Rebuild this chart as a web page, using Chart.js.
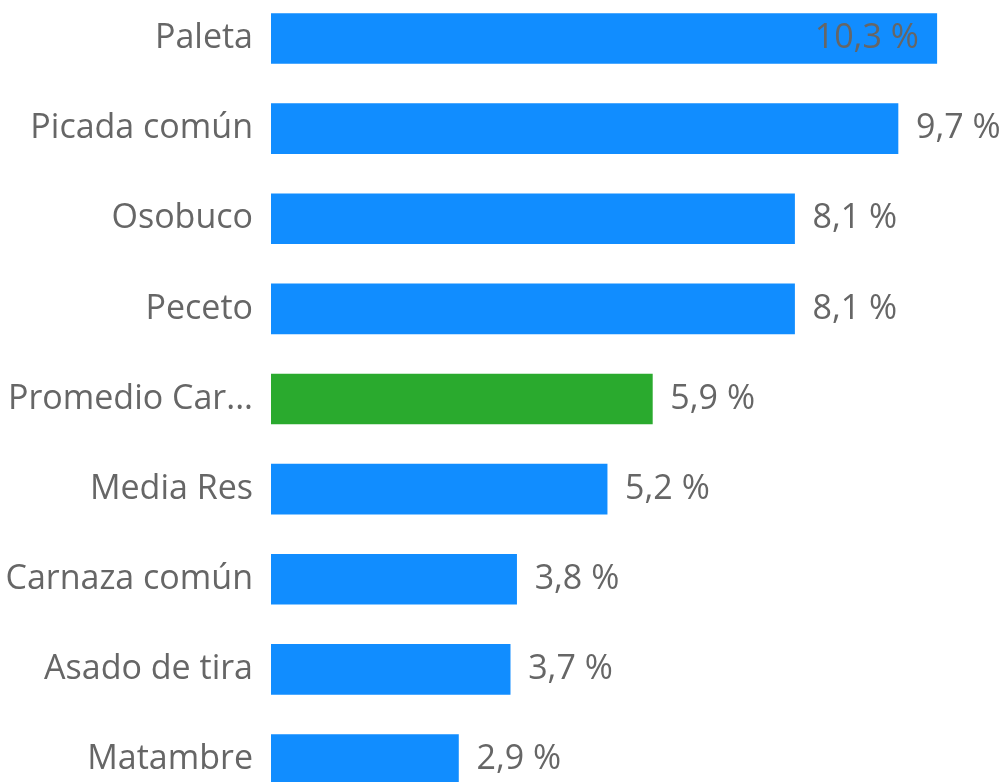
<!DOCTYPE html>
<html>
<head>
<meta charset="utf-8">
<script src="https://cdn.jsdelivr.net/npm/chart.js@4"></script>
<style>
  html, body { margin: 0; padding: 0; background: #fff; overflow: hidden; }
  #wrap { position: absolute; left: 0; top: -37px; width: 1004px; height: 872px; }
</style>
</head>
<body>
<div id="wrap"><canvas id="chart"></canvas></div>
<script>
// Categories and values (percent)
const categories = ['Paleta', 'Picada común', 'Osobuco', 'Peceto', 'Promedio Carne',
    'Media Res', 'Carnaza común', 'Asado de tira', 'Matambre'];
const values = [10.3, 9.7, 8.1, 8.1, 5.9, 5.2, 3.8, 3.7, 2.9];
const barColors = ['#118DFF', '#118DFF', '#118DFF', '#118DFF', '#2AAA2E',
    '#118DFF', '#118DFF', '#118DFF', '#118DFF'];

const textColor = '#666666';
const fontFamily = '"Open Sans", "Noto Sans", sans-serif';
const fontSize = 34;

function shortLabel(label) {
    return label.length > 13 ? label.slice(0, 12) + '...' : label;
}

// Draw value labels at bar ends (inside if it doesn't fit)
const valueLabels = {
    id: 'valueLabels',
    afterDatasetsDraw(chart) {
        const ctx = chart.ctx;
        const meta = chart.getDatasetMeta(0);
        ctx.save();
        ctx.font = fontSize + 'px ' + fontFamily;
        ctx.fillStyle = textColor;
        ctx.textBaseline = 'middle';
        meta.data.forEach((bar, i) => {
            const txt = values[i].toFixed(1).replace('.', ',') + ' %';
            const w = ctx.measureText(txt).width;
            if (bar.x + 18 + w > chart.chartArea.right) {
                ctx.textAlign = 'right';
                ctx.fillText(txt, bar.x - 18, bar.y);
            } else {
                ctx.textAlign = 'left';
                ctx.fillText(txt, bar.x + 18, bar.y);
            }
        });
        ctx.restore();
    }
};

new Chart(document.getElementById('chart'), {
    type: 'bar',
    data: {
        labels: categories,
        datasets: [{
            data: values,
            backgroundColor: barColors,
            barThickness: 50
        }]
    },
    options: {
        indexAxis: 'y',
        responsive: true,
        maintainAspectRatio: false,
        animation: false,
        layout: { padding: 0 },
        plugins: {
            legend: { display: false },
            tooltip: { enabled: false }
        },
        scales: {
            x: {
                display: false,
                min: 0,
                max: 11.34
            },
            y: {
                grid: { display: false },
                border: { display: false },
                afterFit(scale) { scale.width = 271; },
                ticks: {
                    padding: 10,
                    color: textColor,
                    font: { family: fontFamily, size: fontSize },
                    callback: function(v) { return shortLabel(this.getLabelForValue(v)); }
                }
            }
        }
    },
    plugins: [valueLabels]
});
</script>
</body>
</html>
